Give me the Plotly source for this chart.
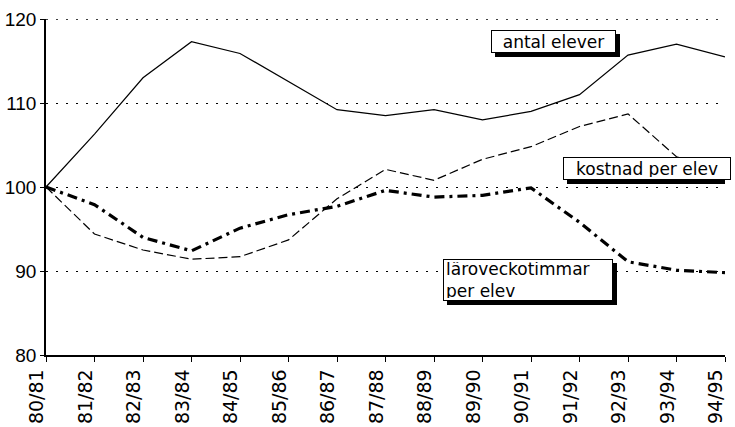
import plotly.graph_objects as go

years = ["80/81", "81/82", "82/83", "83/84", "84/85", "85/86", "86/87", "87/88",
         "88/89", "89/90", "90/91", "91/92", "92/93", "93/94", "94/95"]
antal_elever = [100.0, 106.3, 113.0, 117.3, 115.9, 112.6, 109.2, 108.5,
                109.2, 108.0, 109.0, 111.0, 115.7, 117.0, 115.5]
kostnad_per_elev = [100.0, 94.4, 92.5, 91.4, 91.7, 93.7, 98.6, 102.1,
                    100.8, 103.3, 104.8, 107.2, 108.7, 103.6, 102.0]
larovecko_per_elev = [100.0, 97.9, 94.0, 92.4, 95.1, 96.7, 97.7, 99.6,
                      98.8, 99.0, 99.9, 95.8, 91.1, 90.1, 89.8]
y_ticks = [80, 90, 100, 110, 120]

# plot geometry in pixels (for placing label boxes)
W, H = 735, 427
ML, MR, MT, MB = 46, 10, 19, 72
Y0, Y1 = 80, 120
px_x = (W - ML - MR) / (len(years) - 1)
px_y = (H - MT - MB) / (Y1 - Y0)


def to_data(px, py):
    return (px - ML) / px_x, Y1 - (py - MT) / px_y


fig = go.Figure()
fig.add_trace(go.Scatter(x=years, y=antal_elever, mode="lines",
                         line=dict(color="black", width=1.2)))
fig.add_trace(go.Scatter(x=years, y=kostnad_per_elev, mode="lines",
                         line=dict(color="black", width=1.2, dash="9px,4px")))
fig.add_trace(go.Scatter(x=years, y=larovecko_per_elev, mode="lines",
                         line=dict(color="black", width=3.2, dash="10px,5px,3px,5px")))

# top dotted gridline (at the range edge)
fig.add_shape(type="line", xref="paper", yref="y", x0=0, x1=1, y0=120, y1=120,
              line=dict(color="black", width=1.3, dash="2px,8px"), layer="below")

ann_font = dict(family="DejaVu Sans", size=17, color="black")
PAD, BW = 2, 1
# text, box left, top, right, bottom (pixels), align
labels = [
    ("antal elever", 491, 30, 616, 53, "center"),
    ("kostnad per elev", 563, 157, 731, 180, "center"),
    ("läroveckotimmar<br>per elev", 443, 259, 613, 301, "left"),
]
for text, bx0, by0, bx1, by1, align in labels:
    sx0, sy0 = to_data(bx0 + 4, by0 + 4)
    sx1, sy1 = to_data(bx1 + 4, by1 + 4)
    fig.add_shape(type="rect", xref="x", yref="y", x0=sx0, x1=sx1, y0=sy0, y1=sy1,
                  fillcolor="black", line=dict(width=0), layer="above")
    cx, cy = to_data((bx0 + bx1) / 2, (by0 + by1) / 2)
    fig.add_annotation(x=cx, y=cy, xref="x", yref="y", text=text, showarrow=False,
                       align=align, font=ann_font,
                       width=bx1 - bx0 - 2 * PAD - 2 * BW,
                       height=by1 - by0 - 2 * PAD - 2 * BW, valign="middle",
                       bgcolor="white", bordercolor="black", borderwidth=BW, borderpad=PAD)

fig.update_layout(
    width=W, height=H,
    margin=dict(l=ML, r=MR, t=MT, b=MB),
    paper_bgcolor="white", plot_bgcolor="white",
    showlegend=False,
    font=dict(family="Liberation Sans", color="black"),
)
fig.update_xaxes(
    type="category", range=[0, len(years) - 1], automargin=False,
    showgrid=False, showline=True, linecolor="black", linewidth=1.5,
    ticks="outside", ticklen=5, tickcolor="black", tickwidth=1.2,
    tickangle=-90, ticklabelshift=-9,
    tickfont=dict(family="DejaVu Sans", size=19, color="black"),
    zeroline=False,
)
fig.update_yaxes(
    range=[Y0, Y1], tickvals=y_ticks, ticktext=[str(v) for v in y_ticks],
    automargin=False,
    showgrid=True, gridcolor="black", gridwidth=1.3, griddash="2px,8px",
    showline=True, linecolor="black", linewidth=1.5,
    ticks="outside", ticklen=4, tickcolor="black",
    tickfont=dict(family="Liberation Sans", size=19, color="black"),
    zeroline=False,
)

fig.write_html("out.html", config={"displayModeBar": False},
               post_script="document.body.style.margin='0';")
